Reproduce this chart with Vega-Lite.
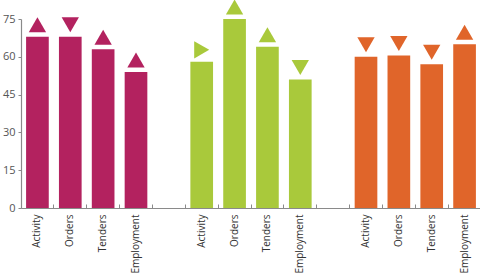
{
  "$schema": "https://vega.github.io/schema/vega-lite/v6.json",
  "autosize": "none",
  "width": 460,
  "height": 189,
  "padding": {"left": 21, "top": 19, "right": 0, "bottom": 68},
  "background": "white",
  "config": {
    "view": {"stroke": null},
    "font": "Open Sans",
    "axis": {"grid": false, "domainColor": "#8a8a8a", "tickColor": "#8a8a8a", "domainWidth": 1.2, "tickWidth": 1}
  },
  "data": {
    "values": [
      {"slot": "Activity|1", "group": "1", "value": 68, "trend": "up"},
      {"slot": "Orders|1", "group": "1", "value": 68, "trend": "down"},
      {"slot": "Tenders|1", "group": "1", "value": 63, "trend": "up"},
      {"slot": "Employment|1", "group": "1", "value": 54, "trend": "up"},
      {"slot": "Activity|2", "group": "2", "value": 58, "trend": "right"},
      {"slot": "Orders|2", "group": "2", "value": 75, "trend": "up"},
      {"slot": "Tenders|2", "group": "2", "value": 64, "trend": "up"},
      {"slot": "Employment|2", "group": "2", "value": 51, "trend": "down"},
      {"slot": "Activity|3", "group": "3", "value": 60, "trend": "down"},
      {"slot": "Orders|3", "group": "3", "value": 60.5, "trend": "down"},
      {"slot": "Tenders|3", "group": "3", "value": 57, "trend": "down"},
      {"slot": "Employment|3", "group": "3", "value": 65, "trend": "up"}
    ]
  },
  "encoding": {
    "x": {
      "field": "slot",
      "type": "nominal",
      "title": null,
      "scale": {
        "domain": ["Activity|1", "Orders|1", "Tenders|1", "Employment|1", " |g1",
                   "Activity|2", "Orders|2", "Tenders|2", "Employment|2", " |g2",
                   "Activity|3", "Orders|3", "Tenders|3", "Employment|3"],
        "paddingInner": 0,
        "paddingOuter": 0
      },
      "axis": {
        "labelExpr": "split(datum.value, '|')[0]",
        "labelAngle": -90,
        "labelFontSize": 10,
        "labelColor": "#333333",
        "labelPadding": 10,
        "tickSize": -4,
        "bandPosition": 0
      }
    },
    "y": {
      "field": "value",
      "type": "quantitative",
      "title": null,
      "scale": {"domain": [0, 75], "nice": false},
      "axis": {"values": [0, 15, 30, 45, 60, 75], "tickSize": 3, "labelPadding": 3, "labelFontSize": 11, "labelColor": "#555555"}
    },
    "color": {
      "field": "group",
      "type": "nominal",
      "legend": null,
      "scale": {"domain": ["1", "2", "3"], "range": ["#b3225f", "#a9c93b", "#e0652a"]}
    }
  },
  "layer": [
    {"mark": {"type": "bar", "width": {"band": 0.69}}},
    {
      "mark": {"type": "point", "filled": true, "opacity": 1, "size": 300, "yOffset": -12},
      "encoding": {
        "shape": {
          "field": "trend",
          "type": "nominal",
          "legend": null,
          "scale": {"domain": ["up", "down", "right"], "range": ["triangle-up", "triangle-down", "triangle-right"]}
        }
      }
    }
  ]
}
